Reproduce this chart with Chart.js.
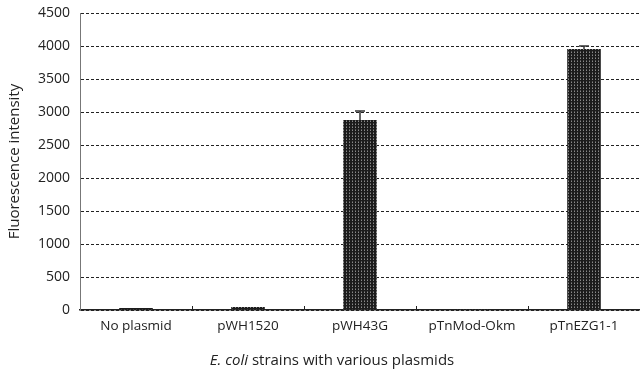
<!DOCTYPE html>
<html>
<head>
<meta charset="utf-8">
<script src="https://cdn.jsdelivr.net/npm/chart.js@4.4.1/dist/chart.umd.min.js"></script>
<style>
  html, body { margin: 0; padding: 0; background: #fff; }
  #wrap { position: relative; width: 640px; height: 371px; }
  #xtitle {
    position: absolute; left: 0; width: 664px; top: 349px;
    text-align: center; font: 15px "Open Sans", sans-serif; color: #222;
  }
</style>
</head>
<body>
<div id="wrap">
  <canvas id="chart" width="640" height="371"></canvas>
  <div id="xtitle"><i>E. coli</i> strains with various plasmids</div>
</div>
<script>
const strains = ['No plasmid', 'pWH1520', 'pWH43G', 'pTnMod-Okm', 'pTnEZG1-1'];
const fluorescence = [30, 45, 2880, 10, 3955];
const errors = [0, 0, 135, 0, 45];
const yTicks = [0, 500, 1000, 1500, 2000, 2500, 3000, 3500, 4000, 4500];

// dark speckled fill like the scanned bars
const makePattern = () => {
  const c = document.createElement('canvas');
  c.width = 3; c.height = 3;
  const g = c.getContext('2d');
  g.fillStyle = '#1c1c1c';
  g.fillRect(0, 0, 3, 3);
  g.fillStyle = '#8a8a8a';
  g.fillRect(1, 1, 1, 1);
  g.fillStyle = '#555';
  g.fillRect(1, 0, 1, 1);
  return g.createPattern(c, 'repeat');
};

const errorBars = {
  id: 'errorBars',
  afterDatasetsDraw(chart) {
    const { ctx, scales: { y } } = chart;
    const meta = chart.getDatasetMeta(0);
    ctx.save();
    ctx.strokeStyle = '#333';
    ctx.lineWidth = 1.5;
    meta.data.forEach((bar, i) => {
      if (!errors[i]) return;
      const top = y.getPixelForValue(fluorescence[i] + errors[i]);
      const mid = y.getPixelForValue(fluorescence[i]);
      ctx.beginPath();
      ctx.moveTo(bar.x, mid);
      ctx.lineTo(bar.x, top);
      ctx.moveTo(bar.x - 5, top);
      ctx.lineTo(bar.x + 5, top);
      ctx.stroke();
    });
    ctx.restore();
  }
};

// small upward tick marks between categories
const innerTicks = {
  id: 'innerTicks',
  afterDraw(chart) {
    const { ctx, scales: { x }, chartArea } = chart;
    ctx.save();
    ctx.strokeStyle = '#222';
    ctx.lineWidth = 1;
    for (let i = 0; i < strains.length - 1; i++) {
      const px = Math.round((x.getPixelForValue(i) + x.getPixelForValue(i + 1)) / 2) + 0.5;
      ctx.beginPath();
      ctx.moveTo(px, chartArea.bottom);
      ctx.lineTo(px, chartArea.bottom - 4);
      ctx.stroke();
    }
    ctx.restore();
  }
};

new Chart(document.getElementById('chart'), {
  type: 'bar',
  data: {
    labels: strains,
    datasets: [{
      data: fluorescence,
      backgroundColor: makePattern(),
      borderWidth: 0,
      categoryPercentage: 1,
      barPercentage: 0.3,
    }],
  },
  options: {
    responsive: false,
    animation: false,
    layout: { padding: { top: 0, right: 0, left: 0, bottom: 0 } },
    plugins: { legend: { display: false }, tooltip: { enabled: false } },
    scales: {
      x: {
        grid: { display: false, drawTicks: false },
        border: { display: true, color: '#222', width: 1.5 },
        ticks: { padding: 8, color: '#222', font: { family: 'Open Sans', size: 13.5 } },
        afterFit: (s) => { s.height = 61; },
      },
      y: {
        min: 0,
        max: 4500,
        afterBuildTicks: (s) => { s.ticks = yTicks.map(v => ({ value: v })); },
        grid: { color: '#222', lineWidth: 1, drawTicks: false },
        border: { display: true, color: '#777', dash: [3, 2] },
        ticks: {
          padding: 10, color: '#222', font: { family: 'Open Sans', size: 14 },
          callback: (v) => String(v),
        },
        title: {
          display: true, text: 'Fluorescence intensity', color: '#222',
          font: { family: 'Open Sans', size: 15 }, padding: { top: 6, bottom: 4 },
        },
        afterFit: (s) => { s.width = 80; s.paddingTop = 13; },
      },
    },
  },
  plugins: [errorBars, innerTicks],
});
</script>
</body>
</html>
